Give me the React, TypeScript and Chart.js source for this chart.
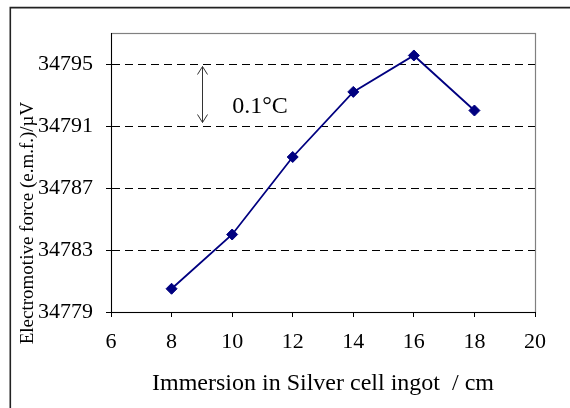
import React, { useEffect, useRef } from "react";
import { Chart, registerables } from "chart.js";

Chart.register(...registerables);

const immersionCm = [8, 10, 12, 14, 16, 18];
const emfMicroVolt = [34780.5, 34784.0, 34789.0, 34793.2, 34795.55, 34792.0];
const xTickValues = [6, 8, 10, 12, 14, 16, 18, 20];
const yTickValues = [34779, 34783, 34787, 34791, 34795];
const xTitle = "Immersion in Silver cell ingot  / cm";
const yTitle = "Electromotive force (e.m.f.)/\u00b5V";
const arrowX = 9;
const arrowTop = 34795;
const arrowBottom = 34791;
const noteText = "0.1\u00b0C";
const noteX = 10;
const noteY = 34791.85;

const FONT = '"Liberation Serif", "Times New Roman", serif';

const decorPlugin = {
  id: "decor",
  beforeDraw(chart: any) {
    const { ctx, chartArea, width, height } = chart;
    ctx.save();
    ctx.fillStyle = "#ffffff";
    ctx.fillRect(0, 0, width, height);
    // outer frame (left and top edges visible)
    ctx.strokeStyle = "#222222";
    ctx.lineWidth = 1.6;
    ctx.beginPath();
    ctx.moveTo(10.3, height + 5);
    ctx.lineTo(10.3, 7.6);
    ctx.lineTo(width + 5, 7.6);
    ctx.stroke();
    // plot area frame (grey)
    ctx.strokeStyle = "#808080";
    ctx.lineWidth = 1.2;
    ctx.strokeRect(
      Math.round(chartArea.left) + 0.5,
      Math.round(chartArea.top) + 0.5,
      Math.round(chartArea.right - chartArea.left),
      Math.round(chartArea.bottom - chartArea.top)
    );
    ctx.restore();
  },
  afterDraw(chart: any) {
    const { ctx } = chart;
    const xs = chart.scales.x;
    const ys = chart.scales.y;
    ctx.save();
    // y axis title
    ctx.translate(28.5, 223);
    ctx.rotate(-Math.PI / 2);
    ctx.font = `19px ${FONT}`;
    ctx.fillStyle = "#000";
    ctx.textAlign = "center";
    ctx.textBaseline = "middle";
    ctx.fillText(yTitle, 0, 0);
    ctx.restore();

    // double-headed arrow
    const ax = Math.round(xs.getPixelForValue(arrowX)) + 0.5;
    const y1 = ys.getPixelForValue(arrowTop) + 2.5;
    const y2 = ys.getPixelForValue(arrowBottom) - 3.5;
    ctx.save();
    ctx.strokeStyle = "#333333";
    ctx.lineWidth = 1;
    ctx.beginPath();
    ctx.moveTo(ax, y1);
    ctx.lineTo(ax, y2);
    ctx.moveTo(ax - 5, y1 + 8);
    ctx.lineTo(ax, y1);
    ctx.lineTo(ax + 5, y1 + 8);
    ctx.moveTo(ax - 5, y2 - 8);
    ctx.lineTo(ax, y2);
    ctx.lineTo(ax + 5, y2 - 8);
    ctx.stroke();
    // note text
    ctx.font = `24px ${FONT}`;
    ctx.fillStyle = "#000";
    ctx.textAlign = "left";
    ctx.textBaseline = "alphabetic";
    ctx.fillText(noteText, xs.getPixelForValue(noteX), ys.getPixelForValue(noteY));
    ctx.restore();
  },
};

export default function App() {
  const canvasRef = useRef<HTMLCanvasElement | null>(null);

  useEffect(() => {
    const canvas = canvasRef.current;
    if (!canvas) return;
    const chart = new Chart(canvas, {
      type: "line",
      data: {
        datasets: [
          {
            data: immersionCm.map((x, i) => ({ x, y: emfMicroVolt[i] })),
            borderColor: "#000080",
            backgroundColor: "#000080",
            borderWidth: 1.8,
            pointStyle: "rectRot",
            pointRadius: 5.5,
            pointBorderWidth: 1,
            pointBackgroundColor: "#000080",
            pointBorderColor: "#000080",
            tension: 0,
            fill: false,
          },
        ],
      },
      options: {
        responsive: false,
        animation: false,
        devicePixelRatio: 1,
        layout: { padding: { top: 33, right: 35, left: 0, bottom: 0 } },
        plugins: {
          legend: { display: false },
          tooltip: { enabled: false },
        },
        scales: {
          x: {
            type: "linear",
            min: 6,
            max: 20,
            afterBuildTicks: (scale: any) => {
              scale.ticks = xTickValues.map((v) => ({ value: v }));
            },
            afterFit: (scale: any) => {
              scale.height = 96;
            },
            grid: {
              drawOnChartArea: false,
              drawTicks: true,
              tickLength: 5,
              tickColor: "#000",
              tickWidth: 1,
            },
            border: { display: true, color: "#000", width: 1 },
            ticks: {
              color: "#000",
              padding: 12,
              font: { family: FONT, size: 22 },
              maxRotation: 0,
            },
            title: {
              display: true,
              text: xTitle,
              color: "#000",
              font: { family: FONT, size: 24 },
              padding: { top: 0, bottom: 10 },
            },
          },
          y: {
            type: "linear",
            min: 34779,
            max: 34797,
            afterBuildTicks: (scale: any) => {
              scale.ticks = yTickValues.map((v) => ({ value: v }));
            },
            afterFit: (scale: any) => {
              scale.width = 111;
            },
            grid: {
              drawOnChartArea: true,
              drawTicks: true,
              tickLength: 5,
              color: "#000",
              lineWidth: 1,
              tickColor: "#000",
              tickBorderDash: [],
            },
            border: { display: true, color: "#000", width: 1, dash: [8, 5] },
            ticks: {
              color: "#000",
              padding: 13,
              font: { family: FONT, size: 22 },
              callback: (v: any) => String(v),
            },
          },
        },
      },
      plugins: [decorPlugin],
    } as any);
    return () => chart.destroy();
  }, []);

  return (
    <div style={{ position: "absolute", left: 0, top: 0, width: 570, height: 408, background: "#fff" }}>
      <canvas ref={canvasRef} width={570} height={408} style={{ width: 570, height: 408, display: "block" }} />
    </div>
  );
}
